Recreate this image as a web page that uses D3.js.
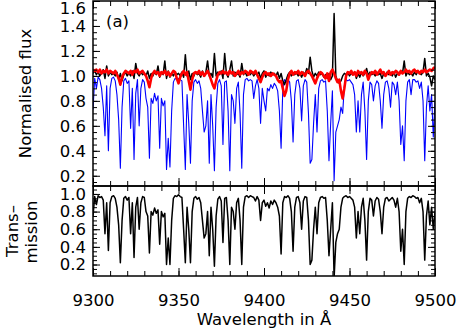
<!DOCTYPE html>
<html><head><meta charset="utf-8">
<script src="https://cdn.jsdelivr.net/npm/d3@7"></script>
<style>body{margin:0;background:#fff}svg{display:block}text{font-family:"DejaVu Sans";fill:#000}</style>
</head><body><svg id="c" width="463" height="331"></svg>
<script>
const wavelength = d3.range(9300, 9501, 1);
const transmission = [0.75,0.97,0.88,0.98,0.96,0.97,0.93,0.55,0.9,0.36,0.9,0.97,0.98,0.95,0.85,0.65,0.22,0.7,0.95,0.97,
0.93,0.96,0.55,0.9,0.28,0.85,0.96,0.6,0.9,0.97,0.96,0.8,0.75,0.33,0.8,0.76,0.84,0.78,0.82,0.43,
0.8,0.74,0.78,0.2,0.5,0.2,0.7,0.95,0.98,0.97,0.99,0.97,0.96,0.6,0.22,0.85,0.6,0.22,0.8,0.95,
0.97,0.94,0.96,0.9,0.7,0.5,0.55,0.8,0.3,0.85,0.6,0.18,0.75,0.94,0.97,0.92,0.45,0.95,0.96,0.7,
0.2,0.85,0.8,0.6,0.9,0.95,0.7,0.2,0.85,0.97,0.98,0.96,0.98,0.97,0.96,0.92,0.97,0.93,0.7,0.9,
0.93,0.86,0.9,0.84,0.92,0.88,0.93,0.9,0.85,0.75,0.32,0.9,0.97,0.96,0.98,0.95,0.8,0.35,0.85,0.96,
0.97,0.9,0.6,0.92,0.97,0.96,0.7,0.2,0.25,0.6,0.85,0.55,0.9,0.96,0.97,0.95,0.96,0.7,0.3,0.6,
0.9,0.05,0.45,0.55,0.6,0.85,0.95,0.97,0.98,0.96,0.97,0.95,0.93,0.85,0.5,0.8,0.55,0.85,0.95,0.7,
0.25,0.8,0.95,0.93,0.75,0.92,0.96,0.94,0.8,0.55,0.85,0.95,0.96,0.92,0.94,0.96,0.93,0.85,0.95,0.8,
0.35,0.6,0.2,0.8,0.95,0.97,0.96,0.98,0.97,0.95,0.96,0.9,0.95,0.8,0.25,0.75,0.92,0.65,0.85,0.6,0.8];
const fluxBlue = [0.73,0.98,0.9,0.99,0.97,0.9,0.75,0.52,0.92,0.4,0.9,0.98,0.99,0.96,0.85,0.65,0.26,0.75,0.96,0.98,
0.94,0.96,0.58,0.9,0.33,0.86,0.97,0.6,0.9,0.97,0.95,0.82,0.75,0.34,0.82,0.78,0.86,0.8,0.84,0.42,
0.82,0.76,0.8,0.25,0.5,0.27,0.72,0.95,0.98,0.97,0.98,0.97,0.96,0.6,0.25,0.85,0.62,0.3,0.8,0.95,
0.97,0.94,0.96,0.9,0.72,0.55,0.6,0.8,0.3,0.85,0.6,0.24,0.75,0.94,0.97,0.92,0.45,0.95,0.96,0.72,
0.24,0.85,0.8,0.62,0.9,0.95,0.7,0.26,0.85,0.97,0.98,0.96,0.97,0.96,0.82,0.92,0.97,0.9,0.62,0.9,
0.8,0.72,0.9,0.88,0.93,0.9,0.94,0.92,0.88,0.72,0.42,0.9,0.97,0.95,0.97,0.95,0.8,0.47,0.85,0.96,
0.97,0.9,0.64,0.92,0.97,0.95,0.7,0.3,0.33,0.62,0.85,0.55,0.9,0.96,0.97,0.95,0.96,0.72,0.32,0.62,
0.88,0.16,0.55,0.6,0.65,0.75,0.7,0.92,0.97,0.96,0.97,0.95,0.93,0.85,0.55,0.8,0.55,0.85,0.95,0.72,
0.33,0.8,0.95,0.93,0.8,0.92,0.96,0.94,0.8,0.58,0.85,0.95,0.96,0.9,0.75,0.95,0.93,0.85,0.95,0.8,
0.45,0.6,0.32,0.8,0.95,0.97,0.85,0.97,0.97,0.95,0.96,0.9,0.95,0.8,0.32,0.75,0.92,0.72,0.85,0.51,0.8];
const fluxBlack = [1.02,1.04,1.01,1.03,1.0,1.02,1.05,0.98,1.08,1.0,1.03,1.01,1.02,1.0,1.03,0.97,1.02,0.96,1.01,1.03,
1.0,1.02,1.0,1.04,0.98,1.1,1.02,1.0,1.03,1.01,1.02,1.0,1.04,0.98,1.02,1.0,1.03,1.01,1.08,0.99,
1.03,1.01,1.12,0.98,1.04,0.99,1.02,1.0,1.03,1.01,1.02,1.0,1.03,0.99,1.17,1.0,1.04,0.97,1.02,1.0,
1.03,1.01,1.02,0.99,1.04,1.0,1.03,1.12,1.0,1.02,0.99,1.18,1.0,1.03,1.01,1.04,0.98,1.18,1.02,0.99,
1.05,1.12,1.0,1.03,1.01,1.02,0.99,1.1,1.01,1.03,1.0,1.02,1.01,1.03,1.0,1.02,1.01,1.03,0.98,1.02,
1.04,0.99,1.02,1.0,1.03,1.01,1.02,1.0,1.03,0.98,1.02,0.96,0.93,0.97,1.01,1.03,1.0,1.02,1.01,1.03,
1.0,1.02,0.99,1.03,1.01,1.06,1.02,1.15,1.04,0.99,1.02,1.0,1.03,1.01,1.02,0.99,1.01,0.98,1.02,0.97,
1.0,1.5,1.0,0.96,0.94,0.96,1.0,1.02,1.01,1.03,1.0,1.02,1.01,1.03,0.98,1.02,0.99,1.03,1.0,1.02,
1.06,1.0,1.03,1.01,1.02,1.0,1.03,1.01,1.02,0.98,1.02,1.0,1.03,1.01,1.02,1.0,1.03,0.99,1.02,1.01,
1.04,1.02,1.12,1.0,1.03,1.01,1.02,1.0,1.03,1.01,1.04,1.02,1.01,1.03,1.14,1.0,1.02,0.99,0.92,1.0,0.97];
const fluxRed = [1.05,1.04,1.05,1.03,1.05,1.02,1.04,1.03,1.05,1.02,1.04,1.03,1.02,1.04,1.01,0.98,0.93,0.99,1.02,1.04,
1.03,1.02,1.04,1.01,1.04,1.03,1.05,1.02,1.03,1.04,1.02,1.0,0.96,0.91,0.98,1.02,1.04,1.02,1.03,1.0,
1.03,1.02,1.04,1.01,1.03,1.0,1.02,1.04,1.03,0.98,0.94,0.99,1.02,1.04,1.01,1.03,0.96,0.89,0.97,1.02,
1.03,1.02,1.04,1.01,1.03,1.0,1.02,1.04,1.01,0.97,0.93,0.9,0.96,1.01,1.03,1.02,1.04,1.02,1.03,1.01,
1.04,1.02,1.03,1.0,1.02,1.04,1.01,1.03,1.02,1.04,1.03,1.01,1.04,1.03,1.02,1.04,1.01,0.98,0.95,0.99,
1.02,1.03,1.01,1.02,1.0,1.02,1.01,1.0,0.97,0.95,0.96,0.9,0.84,0.88,0.97,1.02,1.04,1.01,1.03,1.02,
1.04,1.01,1.03,1.02,1.0,1.03,1.04,1.02,1.0,0.97,0.94,0.98,1.01,1.03,1.02,1.0,0.98,1.02,0.96,1.03,
1.05,1.02,0.98,0.95,0.97,0.88,0.82,0.9,1.0,1.03,1.02,1.04,1.01,1.03,1.0,1.04,1.02,1.03,1.01,1.04,
1.02,0.97,1.01,1.03,1.02,1.04,1.01,1.03,1.05,1.02,1.03,1.0,1.02,1.04,1.01,1.03,1.02,1.04,1.03,1.01,
1.04,1.02,1.03,1.05,1.03,1.04,1.02,1.04,1.05,1.03,1.04,1.02,1.04,1.03,1.05,1.03,1.04,1.05,1.04,1.06,1.07];
const xMajor = [9300, 9350, 9400, 9450, 9500];
const xMinor = d3.range(9300, 9501, 10);
const topMajor = [0.2, 0.4, 0.6, 0.8, 1.0, 1.2, 1.4, 1.6];
const topMinor = d3.range(0.15, 1.61, 0.05);
const botMajor = [0.2, 0.4, 0.6, 0.8, 1.0];
const botMinor = d3.range(0.1, 1.06, 0.05);

const svg = d3.select('#c');
const L = 93, R = 435, T1 = 1, B1 = 186, B2 = 276;
const x = d3.scaleLinear().domain([9300, 9500]).range([L, R]);
const y1 = d3.scaleLinear().domain([0.118, 1.6]).range([B1, T1]);
const y2 = d3.scaleLinear().domain([0.07, 1.09]).range([B2, B1]);

const defs = svg.append('defs');
defs.append('clipPath').attr('id', 'c1').append('rect').attr('x', L).attr('y', T1).attr('width', R - L).attr('height', B1 - T1);
defs.append('clipPath').attr('id', 'c2').append('rect').attr('x', L).attr('y', B1).attr('width', R - L).attr('height', B2 - B1);

function drawLine(g, vals, ys, color, w) {
  const line = d3.line().x((d, i) => x(wavelength[i])).y(d => ys(d));
  g.append('path').attr('d', line(vals)).attr('fill', 'none').attr('stroke', color)
    .attr('stroke-width', w).attr('stroke-linejoin', 'round');
}
const g1 = svg.append('g').attr('clip-path', 'url(#c1)');
drawLine(g1, fluxBlue, y1, '#0000ff', 1.1);
drawLine(g1, fluxBlack, y1, '#000000', 1.5);
drawLine(g1, fluxRed, y1, '#ff0000', 2.6);
const g2 = svg.append('g').attr('clip-path', 'url(#c2)');
drawLine(g2, transmission, y2, '#000000', 1.5);

function styleAxis(g) {
  g.select('.domain').remove();
  g.selectAll('line').attr('stroke', '#000').attr('stroke-width', 1);
}
const inv = v => '';
[[B1, 'top'], [T1, 'top2'], [B2, 'bot'], [B1, 'bot2']].forEach(([yy, k]) => {
  const up = (k === 'top' || k === 'bot');
  const mk = up ? d3.axisBottom : d3.axisTop;
  svg.append('g').attr('transform', `translate(0,${yy})`).call(mk(x).tickValues(xMinor).tickSize(-5).tickFormat(inv)).call(styleAxis);
  svg.append('g').attr('transform', `translate(0,${yy})`).call(mk(x).tickValues(xMajor).tickSize(-8).tickFormat(inv)).call(styleAxis);
});
const xl = svg.append('g').attr('transform', `translate(0,${B2})`)
  .call(d3.axisBottom(x).tickValues(xMajor).tickSize(0).tickPadding(0).tickFormat(d3.format('d')));
xl.select('.domain').remove();
xl.selectAll('text').attr('font-size', 16.5).attr('font-family', 'DejaVu Sans').attr('dy', null).attr('y', 30);

function yAxes(ys, major, minor, fmt) {
  svg.append('g').attr('transform', `translate(${L},0)`).call(d3.axisLeft(ys).tickValues(minor).tickSize(-4).tickFormat(inv)).call(styleAxis);
  svg.append('g').attr('transform', `translate(${R},0)`).call(d3.axisRight(ys).tickValues(minor).tickSize(-4).tickFormat(inv)).call(styleAxis);
  svg.append('g').attr('transform', `translate(${R},0)`).call(d3.axisRight(ys).tickValues(major).tickSize(-7).tickFormat(inv)).call(styleAxis);
  const g = svg.append('g').attr('transform', `translate(${L},0)`).call(d3.axisLeft(ys).tickValues(major).tickSize(-7).tickPadding(7).tickFormat(fmt));
  styleAxis(g);
  g.selectAll('text').attr('font-size', 16.5).attr('font-family', 'DejaVu Sans');
  return g;
}
const ga = yAxes(y1, topMajor, topMinor, d3.format('.1f'));
ga.selectAll('.tick').filter(d => d > 1.55).select('text').attr('y', 7);
yAxes(y2, botMajor, botMinor, d3.format('.1f'));

svg.append('rect').attr('x', L).attr('y', T1).attr('width', R - L).attr('height', B1 - T1).attr('fill', 'none').attr('stroke', '#000').attr('stroke-width', 1.5);
svg.append('rect').attr('x', L).attr('y', B1).attr('width', R - L).attr('height', B2 - B1).attr('fill', 'none').attr('stroke', '#000').attr('stroke-width', 1.5);

svg.append('text').attr('x', 106).attr('y', 27).attr('font-size', 16.5).text('(a)');
svg.append('text').attr('transform', `translate(31,${(T1 + B1) / 2}) rotate(-90)`).attr('text-anchor', 'middle').attr('font-size', 16.5).text('Normalised flux');
svg.append('text').attr('transform', `translate(18,231) rotate(-90)`).attr('text-anchor', 'middle').attr('font-size', 16.5).text('Trans–');
svg.append('text').attr('transform', `translate(37,232) rotate(-90)`).attr('text-anchor', 'middle').attr('font-size', 16.5).text('mission');
svg.append('text').attr('x', (L + R) / 2).attr('y', 325).attr('text-anchor', 'middle').attr('font-size', 16.5).text('Wavelength in Å');
</script></body></html>
